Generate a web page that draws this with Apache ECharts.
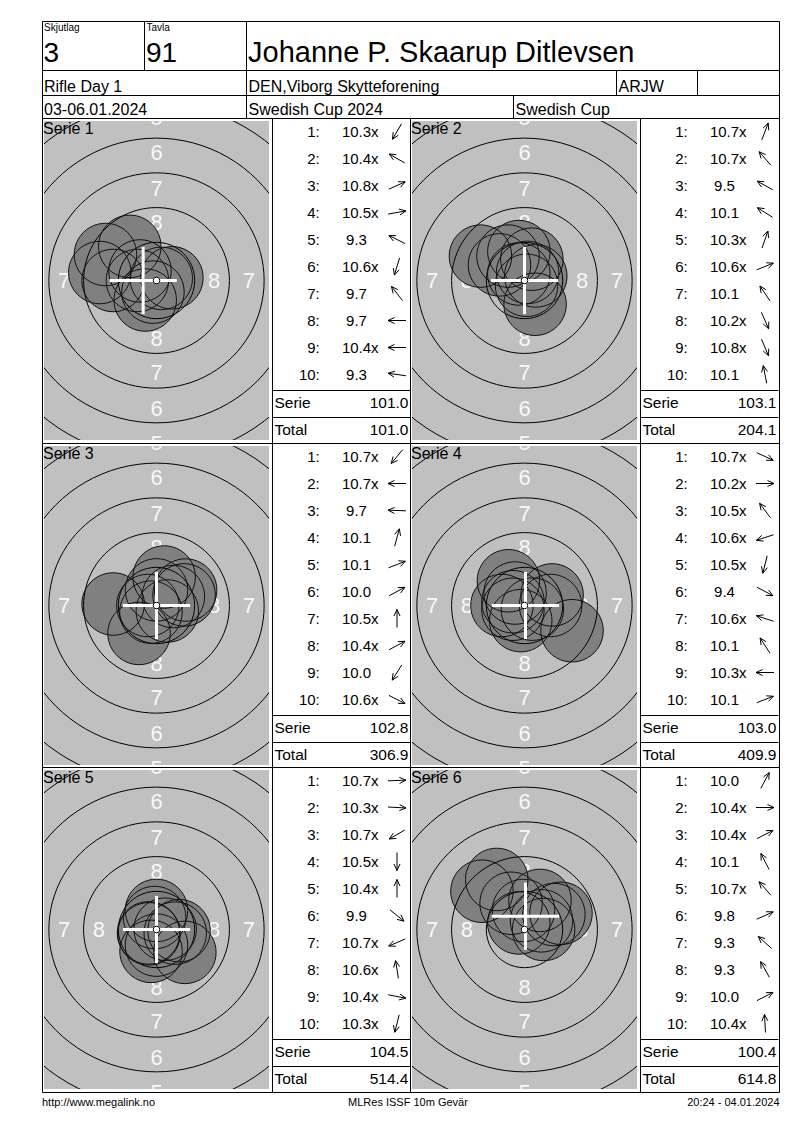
<!DOCTYPE html>
<html>
<head>
<meta charset="utf-8">
<script src="https://cdn.jsdelivr.net/npm/echarts@6.0.0/dist/echarts.min.js"></script>
<style>html,body{margin:0;padding:0;background:#fff;}#chart{width:800px;height:1130px;}</style>
</head>
<body>
<div id="chart"></div>
<script>
// ---------------- data ----------------
const relay = '3';
const lane = '91';
const shooterName = 'Johanne P. Skaarup Ditlevsen';
const eventName = 'Rifle Day 1';
const clubName = 'DEN,Viborg Skytteforening';
const classCode = 'ARJW';
const dateText = '03-06.01.2024';
const competition = 'Swedish Cup 2024';
const cupName = 'Swedish Cup';
const footerLeft = 'http://www.megalink.no';
const footerMid = 'MLRes ISSF 10m Gevär';
const footerRight = '20:24 - 04.01.2024';

const serieNames = ['Serie 1', 'Serie 2', 'Serie 3', 'Serie 4', 'Serie 5', 'Serie 6'];
const shotNumbers = ['1:', '2:', '3:', '4:', '5:', '6:', '7:', '8:', '9:', '10:'];

// shot scores ("x" = inner ten) and arrow directions (degrees, counter-clockwise from right)
const scores1 = ['10.3x', '10.4x', '10.8x', '10.5x', '9.3', '10.6x', '9.7', '9.7', '10.4x', '9.3'];
const dirs1   = [240, 150, 24, 10, 153, 253, 128, 180, 180, 172];
const scores2 = ['10.7x', '10.7x', '9.5', '10.1', '10.3x', '10.6x', '10.1', '10.2x', '10.8x', '10.1'];
const dirs2   = [69, 131, 151, 148, 71, 22, 124, 294, 293, 101];
const scores3 = ['10.7x', '10.7x', '9.7', '10.1', '10.1', '10.0', '10.5x', '10.4x', '10.0', '10.6x'];
const dirs3   = [230, 180, 178, 75, 21, 28, 90, 28, 238, 333];
const scores4 = ['10.7x', '10.2x', '10.5x', '10.6x', '10.5x', '9.4', '10.6x', '10.1', '10.3x', '10.1'];
const dirs4   = [335, 0, 127, 198, 256, 332, 162, 123, 180, 21];
const scores5 = ['10.7x', '10.3x', '10.7x', '10.5x', '10.4x', '9.9', '10.7x', '10.6x', '10.4x', '10.3x'];
const dirs5   = [2, 357, 210, 270, 90, 321, 203, 99, 349, 256];
const scores6 = ['10.0', '10.4x', '10.4x', '10.1', '10.7x', '9.8', '9.3', '9.3', '10.0', '10.4x'];
const dirs6   = [62, 0, 27, 117, 131, 24, 138, 119, 27, 93];

const serieSums = ['101.0', '103.1', '102.8', '103.0', '104.5', '100.4'];
const runningTotals = ['101.0', '204.1', '306.9', '409.9', '514.4', '614.8'];
// white cross position for each serie (mm from target centre)
const crossX = [-0.96, 0, 0, 0.07, 0, 0.07];
const crossY = [0, 0, 0, 0, 0, 0.96];

const allScores = [scores1, scores2, scores3, scores4, scores5, scores6];
const allDirs = [dirs1, dirs2, dirs3, dirs4, dirs5, dirs6];

// ---------------- ISSF 10 m air rifle target geometry (mm) ----------------
const RING_RADII = [2.75, 5.25, 7.75, 10.25, 12.75, 15.25];
const RING_LABELS = ['8', '7', '6', '5'];
const RING_LABEL_R = [4.15, 6.65, 9.2, 11.75];
const PELLET_R = 2.25;
const TEN_R = 0.2;
const CROSS_HALF = 2.42;
const X_EXT = 8.1, Y_EXT = 11.5;

// decimal score -> distance of shot centre from target centre (mm)
function shotDistance(s) { return (11 - parseFloat(s) - 0.05) * 2.5; }

// ---------------- layout ----------------
const FONT = '"Liberation Sans", Arial, Helvetica, sans-serif';
const PX = [42.5, 410.5];
const PY = [118.5, 443.5, 767.5];
const TW = 230, LW = 138;

const grids = [], xAxes = [], yAxes = [], series = [], graphics = [];
const LINE = { stroke: '#000', lineWidth: 1 };
function hline(x1, x2, y) { graphics.push({ type: 'line', z: 100, silent: true, shape: { x1, y1: y, x2, y2: y }, style: LINE }); }
function vline(x, y1, y2) { graphics.push({ type: 'line', z: 100, silent: true, shape: { x1: x, y1, x2: x, y2 }, style: LINE }); }
function txt(x, y, s, size, align) {
  graphics.push({ type: 'text', z: 101, silent: true,
    style: { x, y, text: s, font: size + 'px ' + FONT, fill: '#000', align: align || 'left', verticalAlign: 'middle' } });
}

// frame and header
graphics.push({ type: 'rect', z: 100, silent: true, shape: { x: 42.5, y: 21.5, width: 737, height: 1071 }, style: { fill: 'none', stroke: '#000', lineWidth: 1 } });
hline(42.5, 779.5, 70.5);
hline(42.5, 779.5, 95.5);
hline(42.5, 779.5, 118.5);
hline(42.5, 779.5, 443.5);
hline(42.5, 779.5, 767.5);
vline(144.5, 21.5, 70.5);
vline(246.5, 21.5, 118.5);
vline(616.5, 70.5, 95.5);
vline(697.5, 70.5, 95.5);
vline(513.5, 95.5, 118.5);
vline(410.5, 118.5, 1092.5);
vline(PX[0] + TW, 118.5, 1092.5);
vline(PX[1] + TW, 118.5, 1092.5);

txt(44, 27, 'Skjutlag', 10);
txt(146.5, 27, 'Tavla', 10);
txt(43.5, 52, relay, 28);
txt(146, 52, lane, 28);
txt(248, 51.5, shooterName, 29);
txt(44, 86, eventName, 16);
txt(248.5, 86, clubName, 16);
txt(618.5, 86, classCode, 16);
txt(44, 109, dateText, 16);
txt(248.5, 109, competition, 16);
txt(515.5, 109, cupName, 16);
txt(42, 1102, footerLeft, 11);
txt(408, 1102, footerMid, 11, 'center');
txt(779.5, 1102, footerRight, 11, 'right');

function customSeries(gi, z, data, renderItem, clip) {
  series.push({ type: 'custom', coordinateSystem: 'cartesian2d', xAxisIndex: gi, yAxisIndex: gi,
    z, silent: true, clip: clip !== false, data, renderItem });
}

// ring numbers that fall (at least partly) inside the visible target area
const labelData = [], labelText = [];
RING_LABELS.forEach((t, i) => {
  const r = RING_LABEL_R[i];
  [[0, r], [0, -r], [-r, 0], [r, 0]].forEach(p => {
    if (Math.abs(p[0]) + 0.45 <= X_EXT && Math.abs(p[1]) - 0.55 <= Y_EXT) { labelData.push(p); labelText.push(t); }
  });
});

serieNames.forEach((name, k) => {
  const col = k % 2, row = Math.floor(k / 2);
  const px = PX[col], py = PY[row];
  const scores = allScores[k], dirs = allDirs[k];

  // ---------- target ----------
  const gi = grids.length;
  grids.push({ left: px + 1.5, top: py + 2.5, width: 225, height: 319, show: true, backgroundColor: '#c0c0c0', borderWidth: 0 });
  xAxes.push({ type: 'value', gridIndex: gi, min: -X_EXT, max: X_EXT, show: false });
  yAxes.push({ type: 'value', gridIndex: gi, min: -Y_EXT, max: Y_EXT, show: false });

  customSeries(gi, 2, labelData, (params, api) => {
    const c = api.coord([api.value(0), api.value(1)]);
    return { type: 'text', style: { x: c[0], y: c[1], text: labelText[params.dataIndex],
      font: '22px ' + FONT, fill: '#f8f8f8', align: 'center', verticalAlign: 'middle' } };
  });

  // shots
  const shots = scores.map((s, i) => {
    const d = shotDistance(s), a = dirs[i] * Math.PI / 180;
    return [d * Math.cos(a), d * Math.sin(a)];
  });
  customSeries(gi, 3, shots, (params, api) => {
    const c = api.coord([api.value(0), api.value(1)]);
    return { type: 'circle', shape: { cx: c[0], cy: c[1], r: api.size([PELLET_R, 0])[0] }, style: { fill: '#808080' } };
  });
  // rings
  customSeries(gi, 4, RING_RADII.map(r => [0, 0, r]), (params, api) => {
    const c = api.coord([0, 0]);
    return { type: 'circle', shape: { cx: c[0], cy: c[1], r: api.size([api.value(2), 0])[0] }, style: { fill: 'none', stroke: '#000', lineWidth: 1 } };
  });
  // shot outlines
  customSeries(gi, 5, shots, (params, api) => {
    const c = api.coord([api.value(0), api.value(1)]);
    return { type: 'circle', shape: { cx: c[0], cy: c[1], r: api.size([PELLET_R, 0])[0] }, style: { fill: 'none', stroke: '#111', lineWidth: 1 } };
  });
  // white cross
  customSeries(gi, 6, [[crossX[k], crossY[k]]], (params, api) => {
    const c = api.coord([api.value(0), api.value(1)]);
    const h = api.size([CROSS_HALF, 0])[0];
    return { type: 'group', children: [
      { type: 'line', shape: { x1: c[0] - h, y1: c[1], x2: c[0] + h, y2: c[1] }, style: { stroke: '#fff', lineWidth: 3 } },
      { type: 'line', shape: { x1: c[0], y1: c[1] - h, x2: c[0], y2: c[1] + h }, style: { stroke: '#fff', lineWidth: 3 } }
    ] };
  });
  // ten ring dot
  customSeries(gi, 7, [[0, 0]], (params, api) => {
    const c = api.coord([0, 0]);
    return { type: 'circle', shape: { cx: c[0], cy: c[1], r: api.size([TEN_R, 0])[0] + 0.5 }, style: { fill: '#fff', stroke: '#000', lineWidth: 1 } };
  });

  graphics.push({ type: 'text', z: 101, silent: true,
    style: { x: px + 0.5, y: py + 10, text: name, font: '16px ' + FONT, fill: '#000', align: 'left', verticalAlign: 'middle' } });

  // ---------- shot list ----------
  const lx = px + TW;
  const li = grids.length;
  grids.push({ left: lx, top: py, width: LW, height: 270 });
  xAxes.push({ type: 'value', gridIndex: li, min: 0, max: LW, show: false });
  yAxes.push({ type: 'category', gridIndex: li, data: shotNumbers, inverse: true, show: false });
  customSeries(li, 2, scores.map((s, i) => [0, i]), (params, api) => {
    const i = params.dataIndex;
    const y = api.coord([0, i])[1] - 0.5;
    const X = v => api.coord([v, i])[0];
    const s = scores[i];
    const inner = s.endsWith('x');
    const num = inner ? s.slice(0, -1) : s;
    const f = '15px ' + FONT;
    const ch = [
      { type: 'text', style: { x: X(47.3), y, text: shotNumbers[i], font: f, fill: '#000', align: 'right', verticalAlign: 'middle' } },
      { type: 'text', style: { x: X(84), y, text: num, font: f, fill: '#000', align: 'center', verticalAlign: 'middle' } }
    ];
    if (inner) ch.push({ type: 'text', style: { x: X(98.6), y, text: 'x', font: f, fill: '#000', align: 'left', verticalAlign: 'middle' } });
    const a = dirs[i] * Math.PI / 180, ux = Math.cos(a), uy = -Math.sin(a);
    const cx = X(124.5), cy = y, L = 9, HL = 6.5, HW = 3;
    const tip = [cx + ux * L, cy + uy * L];
    ch.push({ type: 'polyline', shape: { points: [[cx - ux * L, cy - uy * L], tip] }, style: { stroke: '#000', lineWidth: 1, fill: null } });
    ch.push({ type: 'polyline', shape: { points: [
      [tip[0] - ux * HL - uy * HW, tip[1] - uy * HL + ux * HW], tip,
      [tip[0] - ux * HL + uy * HW, tip[1] - uy * HL - ux * HW]] }, style: { stroke: '#000', lineWidth: 1, fill: null } });
    return { type: 'group', children: ch };
  }, false);

  const yS = Math.round(py + 271.5) + 0.5, yT = Math.round(py + 298) + 0.5;
  hline(lx, lx + LW, yS);
  hline(lx, lx + LW, yT);
  txt(lx + 2, py + 284, 'Serie', 15.5);
  txt(lx + LW - 2, py + 284, serieSums[k], 15.5, 'right');
  txt(lx + 2, py + 310.5, 'Total', 15.5);
  txt(lx + LW - 2, py + 310.5, runningTotals[k], 15.5, 'right');
});

const chart = echarts.init(document.getElementById('chart'), null, { renderer: 'svg', width: 800, height: 1130 });
chart.setOption({
  animation: false,
  grid: grids,
  xAxis: xAxes,
  yAxis: yAxes,
  series: series,
  graphic: { elements: graphics }
});
</script>
</body>
</html>
